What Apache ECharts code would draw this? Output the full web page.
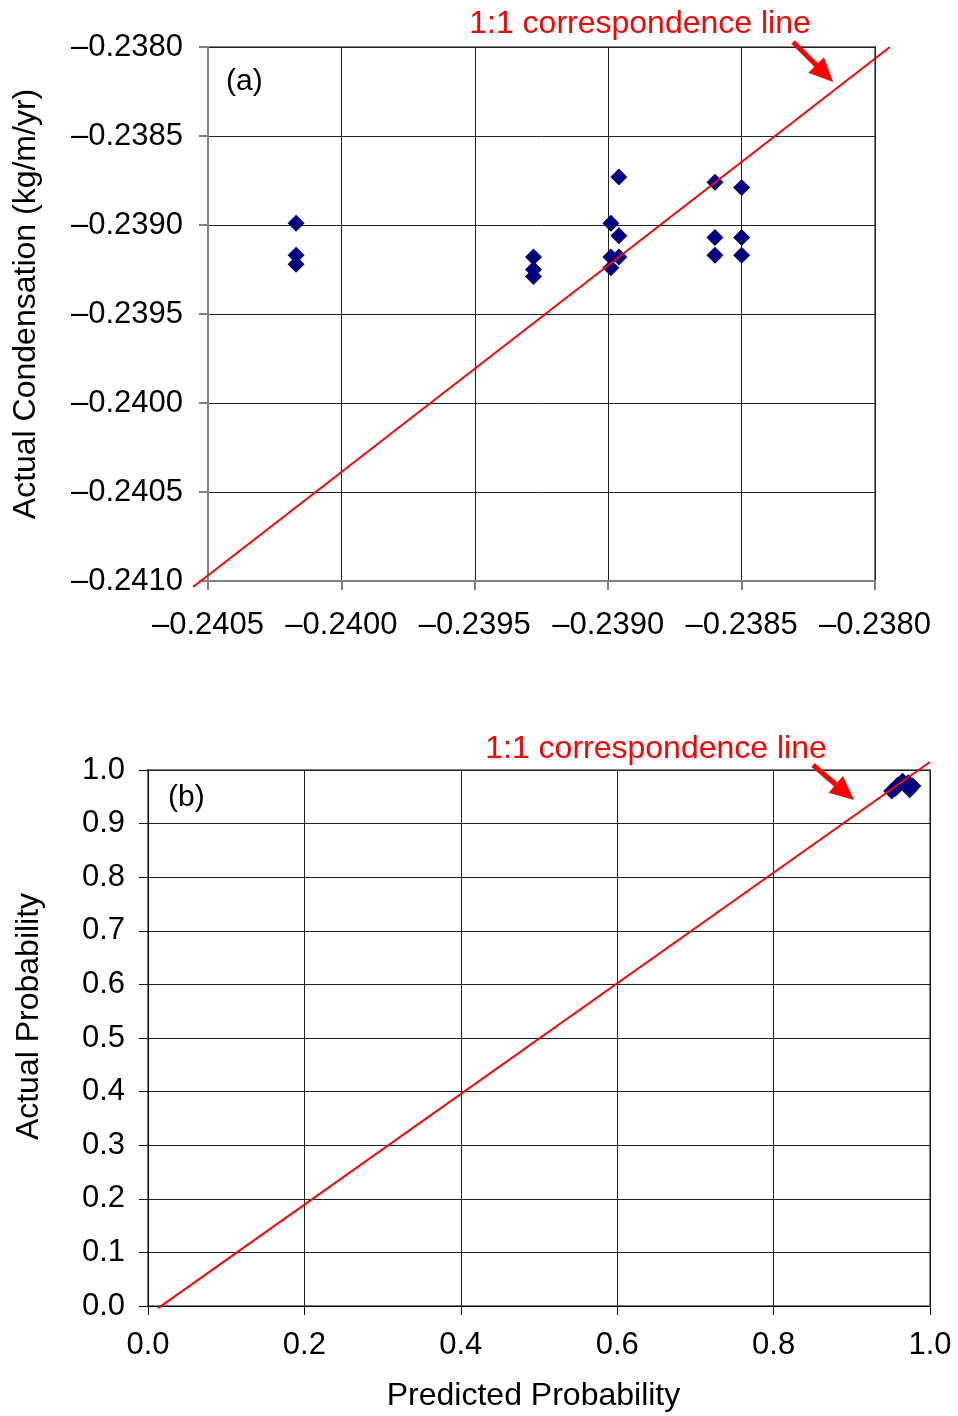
<!DOCTYPE html>
<html>
<head>
<meta charset="utf-8">
<script src="https://cdn.jsdelivr.net/npm/echarts@6/dist/echarts.min.js"></script>
<style>
  html, body { margin: 0; padding: 0; background: #fff; }
  #chart { width: 958px; height: 1416px; }
</style>
</head>
<body>
<div id="chart"></div>
<script>
// (a) condensation, predicted vs actual
const condPredicted = [
  -0.24017, -0.24017, -0.24017,
  -0.23928, -0.23928, -0.23928,
  -0.23899, -0.23899, -0.23899,
  -0.23896, -0.23896, -0.23896,
  -0.23860, -0.23860, -0.23860,
  -0.23850, -0.23850, -0.23850
];
const condActual = [
  -0.23899, -0.23917, -0.23922,
  -0.23918, -0.23925, -0.23929,
  -0.23899, -0.23918, -0.23924,
  -0.23873, -0.23906, -0.23918,
  -0.23876, -0.23907, -0.23917,
  -0.23879, -0.23907, -0.23917
];
// 1:1 line as drawn in (a), and the annotation arrow (tail -> tip)
const lineAx = [-0.240556, -0.237944];
const lineAy = [-0.241034, -0.2380];
const arrowAx = [-0.238307, -0.238157];
const arrowAy = [-0.237972, -0.238197];
const condTicks = { xMin: -0.2405, xMax: -0.2380, yMin: -0.2410, yMax: -0.2380, step: 0.0005 };

// (b) probability, predicted vs actual
const probPredicted = [0.951, 0.959, 0.965, 0.972, 0.978, 0.974, 0.956];
const probActual = [0.961, 0.972, 0.979, 0.976, 0.970, 0.963, 0.966];
const lineBx = [0.013, 1.0];
const lineBy = [-0.004, 1.015];
const arrowBx = [0.8504, 0.9028];
const arrowBy = [1.0093, 0.9440];
const probTicks = { min: 0, max: 1, xStep: 0.2, yStep: 0.1 };

const font = 'Liberation Sans, Arial, sans-serif';
const red = '#ff0000';
const neg = v => (v < 0 ? '\u2013' : '') + Math.abs(v).toFixed(4);

const chart = echarts.init(document.getElementById('chart'));

const nameStyle = (pad) => ({ color: '#000', fontSize: 32, fontFamily: font, padding: pad });

chart.setOption({
  backgroundColor: '#fff',
  animation: false,
  title: [
    { text: '1:1 correspondence line', left: 635, top: 3, textAlign: 'center',
      textStyle: { color: red, fontSize: 32, fontWeight: 'normal', fontFamily: font } },
    { text: '1:1 correspondence line', left: 651, top: 728, textAlign: 'center',
      textStyle: { color: red, fontSize: 32, fontWeight: 'normal', fontFamily: font } },
    { text: '(a)', left: 221, top: 62,
      textStyle: { color: '#000', fontSize: 30, fontWeight: 'normal', fontFamily: font } },
    { text: '(b)', left: 163, top: 778,
      textStyle: { color: '#000', fontSize: 30, fontWeight: 'normal', fontFamily: font } }
  ],
  grid: [
    { left: 208, top: 47, width: 667, height: 534, show: true, borderColor: '#808080', borderWidth: 2 },
    { left: 148, top: 770, width: 782, height: 536, show: true, borderColor: '#808080', borderWidth: 2 }
  ],
  xAxis: [
    {
      gridIndex: 0, type: 'value',
      min: condTicks.xMin, max: condTicks.xMax, interval: condTicks.step,
      axisLine: { onZero: false, lineStyle: { color: '#808080', width: 2 } },
      axisTick: { show: true, length: 9, lineStyle: { color: '#808080', width: 2 } },
      splitLine: { show: true, lineStyle: { color: '#222', width: 1 } },
      axisLabel: { formatter: neg, color: '#000', fontSize: 31, fontFamily: font, margin: 29 }
    },
    {
      gridIndex: 1, type: 'value',
      min: probTicks.min, max: probTicks.max, interval: probTicks.xStep,
      name: 'Predicted Probability', nameLocation: 'middle', nameGap: 74,
      nameTextStyle: nameStyle([0, 11, 0, 0]),
      axisLine: { onZero: false, lineStyle: { color: '#000', width: 1 } },
      axisTick: { show: true, length: 9, lineStyle: { color: '#000' } },
      splitLine: { show: true, lineStyle: { color: '#222', width: 1 } },
      axisLabel: { formatter: v => v.toFixed(1), color: '#000', fontSize: 31, fontFamily: font, margin: 24 }
    }
  ],
  yAxis: [
    {
      gridIndex: 0, type: 'value',
      min: condTicks.yMin, max: condTicks.yMax, interval: condTicks.step,
      name: 'Actual Condensation (kg/m/yr)', nameLocation: 'middle', nameGap: 166,
      nameTextStyle: nameStyle([0, 0, 0, 20]),
      axisLine: { onZero: false, lineStyle: { color: '#808080', width: 2 } },
      axisTick: { show: true, length: 9, lineStyle: { color: '#808080', width: 2 } },
      splitLine: { show: true, lineStyle: { color: '#222', width: 1 } },
      axisLabel: { formatter: neg, color: '#000', fontSize: 31, fontFamily: font, margin: 25 }
    },
    {
      gridIndex: 1, type: 'value',
      min: probTicks.min, max: probTicks.max, interval: probTicks.yStep,
      name: 'Actual Probability', nameLocation: 'middle', nameGap: 103,
      nameTextStyle: nameStyle([0, 0, 0, 43]),
      axisLine: { onZero: false, lineStyle: { color: '#000', width: 1 } },
      axisTick: { show: true, length: 9, lineStyle: { color: '#000' } },
      splitLine: { show: true, lineStyle: { color: '#222', width: 1 } },
      axisLabel: { formatter: v => v.toFixed(1), color: '#000', fontSize: 31, fontFamily: font, margin: 23 }
    }
  ],
  series: [
    {
      type: 'scatter', xAxisIndex: 0, yAxisIndex: 0,
      symbol: 'diamond', symbolSize: 17,
      itemStyle: { color: '#000080', opacity: 1 },
      data: condPredicted.map((x, i) => [x, condActual[i]])
    },
    {
      type: 'scatter', xAxisIndex: 1, yAxisIndex: 1,
      symbol: 'diamond', symbolSize: 17,
      itemStyle: { color: '#000080', opacity: 1 },
      data: probPredicted.map((x, i) => [x, probActual[i]])
    }
  ]
});

// 1:1 lines and arrows reach past the plot frame, so they are drawn as
// graphics placed through the grids' own scales.
const px = (gi, x, y) => chart.convertToPixel({ gridIndex: gi }, [x, y]);

function refLine(gi, xs, ys) {
  const a = px(gi, xs[0], ys[0]);
  const b = px(gi, xs[1], ys[1]);
  return {
    type: 'line', silent: true, z: 10,
    shape: { x1: a[0], y1: a[1], x2: b[0], y2: b[1] },
    style: { stroke: red, lineWidth: 2 }
  };
}

function arrow(gi, xs, ys) {
  const t = px(gi, xs[0], ys[0]);
  const h = px(gi, xs[1], ys[1]);
  const dx = h[0] - t[0], dy = h[1] - t[1];
  const len = Math.hypot(dx, dy);
  const ux = dx / len, uy = dy / len;
  const headLen = 24, headHalf = 11;
  const bx = h[0] - ux * headLen, by = h[1] - uy * headLen;
  return [
    {
      type: 'line', silent: true, z: 11,
      shape: { x1: t[0], y1: t[1], x2: bx + ux * 2, y2: by + uy * 2 },
      style: { stroke: red, lineWidth: 5 }
    },
    {
      type: 'polygon', silent: true, z: 11,
      shape: { points: [h, [bx - uy * headHalf, by + ux * headHalf], [bx + uy * headHalf, by - ux * headHalf]] },
      style: { fill: red }
    }
  ];
}

chart.setOption({
  graphic: [
    refLine(0, lineAx, lineAy),
    refLine(1, lineBx, lineBy),
    ...arrow(0, arrowAx, arrowAy),
    ...arrow(1, arrowBx, arrowBy)
  ]
});
</script>
</body>
</html>
